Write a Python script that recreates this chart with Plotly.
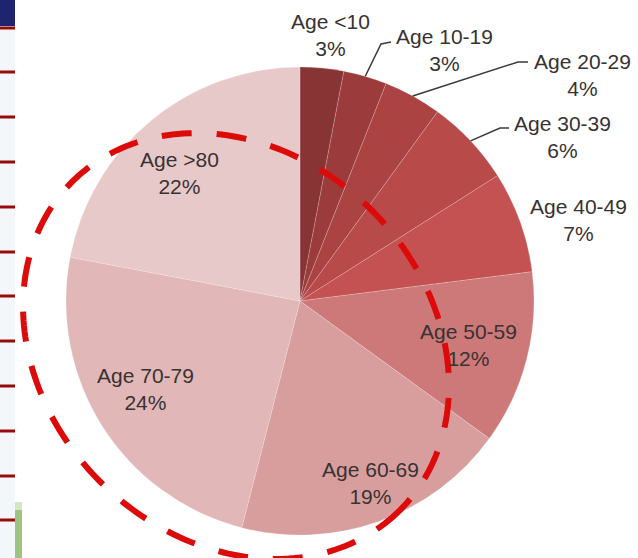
import numpy as np
import plotly.graph_objects as go

# ---- data -------------------------------------------------------------
age_groups = ["Age <10", "Age 10-19", "Age 20-29", "Age 30-39", "Age 40-49",
              "Age 50-59", "Age 60-69", "Age 70-79", "Age >80"]
shares = [3, 3, 4, 6, 7, 12, 19, 24, 22]

# ---- styling ----------------------------------------------------------
slice_colors = ["#883434", "#9C3B3B", "#AB4343", "#B84A4A", "#C55252",
                "#CD7979", "#D89E9E", "#E1B7B7", "#E8C9C9"]

W, H = 638, 558
CX, CY, R = 300, 301, 234          # pie centre and radius (px)

# label block centres (px) and leader-line elbows (px)
label_pos = {
    "Age <10": (330, 35), "Age 10-19": (444, 50), "Age 20-29": (582, 75),
    "Age 30-39": (562, 137), "Age 40-49": (578, 220), "Age 50-59": (468, 345),
    "Age 60-69": (370, 483), "Age 70-79": (145, 389), "Age >80": (180, 173),
}
leader_elbows = {
    "Age 10-19": [(381, 44), (391, 42)],
    "Age 20-29": [(518, 62), (528, 62)],
    "Age 30-39": [(500, 128), (509, 128)],
}


def px(x):
    return x / W


def py(y):
    return 1 - y / H


fig = go.Figure()

fig.add_trace(go.Pie(
    labels=age_groups,
    values=shares,
    sort=False,
    direction="clockwise",
    rotation=0,
    textinfo="none",
    hoverinfo="label+percent",
    marker=dict(colors=slice_colors,
                line=dict(color="rgba(255,255,255,0.18)", width=1)),
    domain=dict(x=[px(CX - R), px(CX + R)], y=[py(CY + R), py(CY - R)]),
    showlegend=False,
))

shapes = []

# slide edge strip on the left
shapes.append(dict(type="rect", xref="paper", yref="paper",
                   x0=0, x1=px(15), y0=0, y1=1,
                   fillcolor="#F3F7FA", line=dict(width=0), layer="below"))
shapes.append(dict(type="rect", xref="paper", yref="paper",
                   x0=0, x1=px(15), y0=py(26), y1=1,
                   fillcolor="#1E2470", line=dict(width=0)))
for ty in [28, 72, 117, 162, 207, 252, 296, 341, 386, 431, 476, 520]:
    shapes.append(dict(type="line", xref="paper", yref="paper",
                       x0=0, x1=px(15), y0=py(ty), y1=py(ty),
                       line=dict(color="#980B0B", width=3)))
shapes.append(dict(type="rect", xref="paper", yref="paper",
                   x0=px(15), x1=px(22), y0=0, y1=py(510),
                   fillcolor="#9DC47E", line=dict(width=0)))
shapes.append(dict(type="rect", xref="paper", yref="paper",
                   x0=px(15), x1=px(22), y0=py(510), y1=py(502),
                   fillcolor="#D5E6C7", line=dict(width=0)))

# leader lines from slice edges to their labels
total = sum(shares)
cum = 0
for name, v in zip(age_groups, shares):
    mid = 2 * np.pi * (cum + v / 2) / total
    cum += v
    if name not in leader_elbows:
        continue
    sx = CX + R * np.sin(mid)
    sy = CY - R * np.cos(mid)
    pts = [(sx, sy)] + leader_elbows[name]
    path = "M " + " L ".join(f"{px(a):.5f},{py(b):.5f}" for a, b in pts)
    shapes.append(dict(type="path", xref="paper", yref="paper", path=path,
                       line=dict(color="#3A3A3A", width=1.5)))

# dashed highlight ellipse around the older age groups
ecx, ecy, ea, eb, rot = 236, 346, 232, 192, np.deg2rad(45)
t = np.linspace(0, 2 * np.pi, 241)
ex = ecx + ea * np.cos(t) * np.cos(rot) - eb * np.sin(t) * np.sin(rot)
ey = ecy + ea * np.cos(t) * np.sin(rot) + eb * np.sin(t) * np.cos(rot)
epath = "M " + " L ".join(f"{px(a):.5f},{py(b):.5f}" for a, b in zip(ex, ey)) + " Z"
shapes.append(dict(type="path", xref="paper", yref="paper", path=epath,
                   line=dict(color="#DD0A0A", width=6, dash="30px,25px"),
                   fillcolor="rgba(0,0,0,0)"))

annotations = []
for name, v in zip(age_groups, shares):
    lx, ly = label_pos[name]
    annotations.append(dict(
        x=px(lx), y=py(ly), xref="paper", yref="paper",
        text=f"{name}<br>{v}%", showarrow=False,
        xanchor="center", yanchor="middle", align="center",
        font=dict(family="Liberation Sans, Arial, sans-serif", size=21,
                  color="#383232"),
    ))

fig.update_layout(
    width=W, height=H,
    margin=dict(l=0, r=0, t=0, b=0),
    paper_bgcolor="white",
    plot_bgcolor="white",
    shapes=shapes,
    annotations=annotations,
)

fig.write_html("out.html")
